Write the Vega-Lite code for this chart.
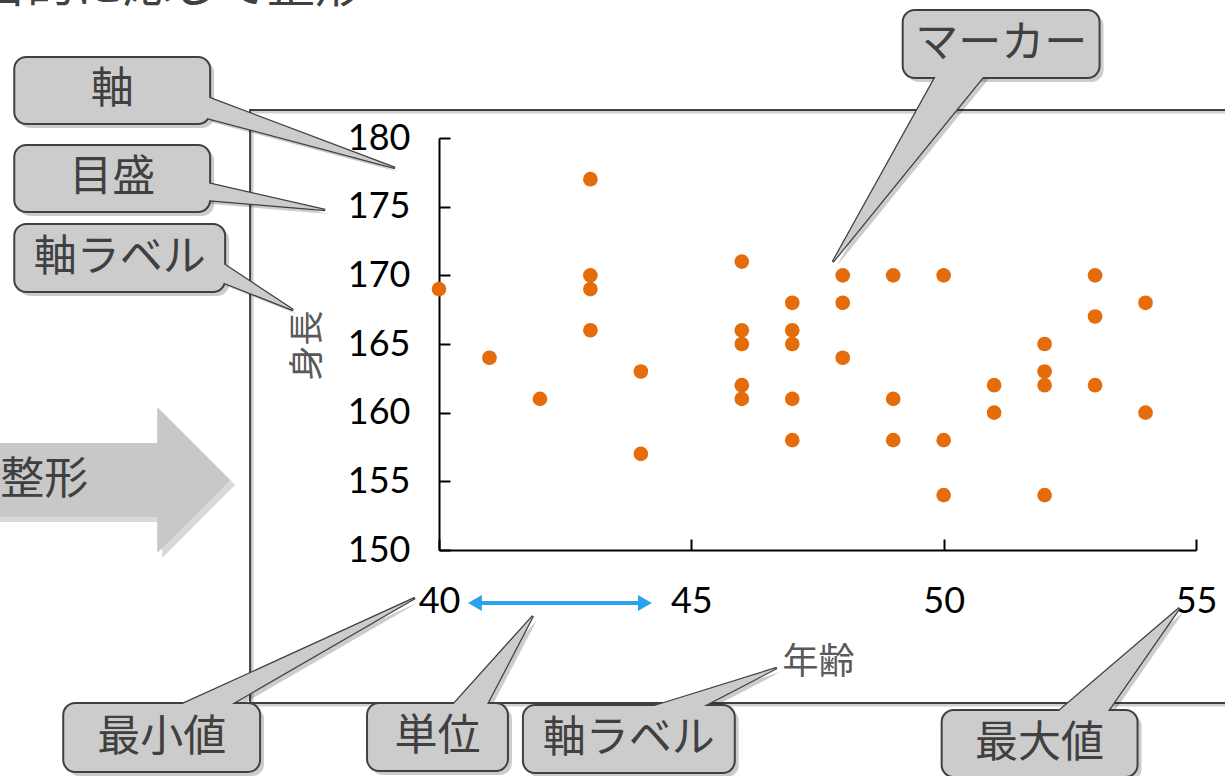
{
  "$schema": "https://vega.github.io/schema/vega-lite/v6.json",
  "width": 757,
  "height": 412,
  "autosize": "none",
  "padding": {"left": 439, "top": 138, "right": 29, "bottom": 226},
  "background": "white",
  "config": {"view": {"stroke": null}, "font": "Noto Sans CJK JP"},
  "datasets": {
    "pts": [
      {"age": 40, "height": 169},
      {"age": 41, "height": 164},
      {"age": 42, "height": 161},
      {"age": 43, "height": 177}, {"age": 43, "height": 170}, {"age": 43, "height": 169}, {"age": 43, "height": 166},
      {"age": 44, "height": 163}, {"age": 44, "height": 157},
      {"age": 46, "height": 171}, {"age": 46, "height": 166}, {"age": 46, "height": 165}, {"age": 46, "height": 162}, {"age": 46, "height": 161},
      {"age": 47, "height": 168}, {"age": 47, "height": 166}, {"age": 47, "height": 165}, {"age": 47, "height": 161}, {"age": 47, "height": 158},
      {"age": 48, "height": 170}, {"age": 48, "height": 168}, {"age": 48, "height": 164},
      {"age": 49, "height": 170}, {"age": 49, "height": 161}, {"age": 49, "height": 158},
      {"age": 50, "height": 170}, {"age": 50, "height": 158}, {"age": 50, "height": 154},
      {"age": 51, "height": 162}, {"age": 51, "height": 160},
      {"age": 52, "height": 165}, {"age": 52, "height": 163}, {"age": 52, "height": 162}, {"age": 52, "height": 154},
      {"age": 53, "height": 170}, {"age": 53, "height": 167}, {"age": 53, "height": 162},
      {"age": 54, "height": 168}, {"age": 54, "height": 160}
    ],
    "frame": [{"x1": 36.257, "x2": 55.861, "y1": 182.04, "y2": 138.859}],
    "title": [{"text": "目的に応じて整形", "x": 38.495, "y": 189.9}],
    "bigArrowBody": [{"x1": 31.2, "x2": 34.45, "y1": 157.791, "y2": 152.403, "text": "整形", "tx": 33.05, "ty": 155.0}],
    "bigArrowHead": [
      {"x": 34.416, "y": 160.413, "y2": 149.782},
      {"x": 35.861, "y": 155.097, "y2": 155.097}
    ],
    "unit": [{"x": 40.554, "x2": 44.238, "y": 146.141}],
    "boxes": [
      {"label": "軸", "x1": 31.584, "x2": 35.465, "y1": 185.899, "y2": 181.02, "tx": 33.525, "ty": 183.459},
      {"label": "目盛", "x1": 31.584, "x2": 35.465, "y1": 179.491, "y2": 174.612, "tx": 33.525, "ty": 177.052},
      {"label": "軸ラベル", "x1": 31.584, "x2": 35.762, "y1": 173.738, "y2": 168.787, "tx": 33.673, "ty": 171.263},
      {"label": "マーカー", "x1": 49.188, "x2": 53.089, "y1": 189.321, "y2": 184.37, "tx": 51.139, "ty": 186.845},
      {"label": "最小値", "x1": 32.554, "x2": 36.455, "y1": 138.859, "y2": 133.834, "tx": 34.505, "ty": 136.347},
      {"label": "単位", "x1": 38.574, "x2": 41.366, "y1": 138.859, "y2": 133.907, "tx": 39.97, "ty": 136.383},
      {"label": "軸ラベル", "x1": 41.663, "x2": 45.861, "y1": 138.713, "y2": 133.762, "tx": 43.762, "ty": 136.238},
      {"label": "最大値", "x1": 49.96, "x2": 53.842, "y1": 138.349, "y2": 133.471, "tx": 51.901, "ty": 135.91}
    ],
    "lptr": [
      {"id": "軸", "x": 35.4, "y": 182.986, "y2": 181.457},
      {"id": "軸", "x": 39.129, "y": 177.816, "y2": 177.816},
      {"id": "目盛", "x": 35.4, "y": 176.724, "y2": 175.486},
      {"id": "目盛", "x": 37.743, "y": 174.758, "y2": 174.758},
      {"id": "軸ラベル", "x": 35.7, "y": 170.898, "y2": 169.515},
      {"id": "軸ラベル", "x": 37.109, "y": 167.476, "y2": 167.476}
    ],
    "vptr": [
      {"id": "最小値", "y": 138.64, "x": 34.832, "x2": 35.822},
      {"id": "最小値", "y": 146.505, "x": 39.525, "x2": 39.525},
      {"id": "単位", "y": 138.64, "x": 40.257, "x2": 40.931},
      {"id": "単位", "y": 145.194, "x": 41.861, "x2": 41.861},
      {"id": "軸ラベル2", "y": 138.49, "x": 44.139, "x2": 45.168},
      {"id": "軸ラベル2", "y": 141.408, "x": 46.693, "x2": 46.693},
      {"id": "最大値", "y": 138.13, "x": 52.238, "x2": 53.228},
      {"id": "最大値", "y": 145.777, "x": 54.673, "x2": 54.673},
      {"id": "マーカー", "y": 184.59, "x": 49.861, "x2": 50.812},
      {"id": "マーカー", "y": 170.971, "x": 47.802, "x2": 47.802}
    ]
  },
  "layer": [
    {
      "data": {"name": "frame"},
      "mark": {"type": "rect", "fill": null, "stroke": "#d0d0d0", "strokeWidth": 3, "xOffset": 2, "x2Offset": 2, "yOffset": 2, "y2Offset": 2},
      "encoding": {
        "x": {"field": "x1", "type": "quantitative"}, "x2": {"field": "x2"},
        "y": {"field": "y1", "type": "quantitative"}, "y2": {"field": "y2"}
      }
    },
    {
      "data": {"name": "frame"},
      "mark": {"type": "rect", "fill": null, "stroke": "#404040", "strokeWidth": 2},
      "encoding": {
        "x": {"field": "x1", "type": "quantitative"}, "x2": {"field": "x2"},
        "y": {"field": "y1", "type": "quantitative"}, "y2": {"field": "y2"}
      }
    },
    {
      "data": {"name": "title"},
      "mark": {"type": "text", "align": "right", "baseline": "alphabetic", "fontSize": 48, "color": "#404040", "font": "Noto Sans CJK JP"},
      "encoding": {
        "x": {"field": "x", "type": "quantitative"},
        "y": {"field": "y", "type": "quantitative"},
        "text": {"field": "text"}
      }
    },
    {
      "data": {"name": "bigArrowBody"},
      "mark": {"type": "rect", "fill": "#000000", "opacity": 0.15, "xOffset": 5, "x2Offset": 5, "yOffset": 5, "y2Offset": 5},
      "encoding": {
        "x": {"field": "x1", "type": "quantitative"}, "x2": {"field": "x2"},
        "y": {"field": "y1", "type": "quantitative"}, "y2": {"field": "y2"}
      }
    },
    {
      "data": {"name": "bigArrowHead"},
      "mark": {"type": "area", "fill": "#000000", "opacity": 0.15, "xOffset": 5, "yOffset": 5, "y2Offset": 5},
      "encoding": {
        "x": {"field": "x", "type": "quantitative"},
        "y": {"field": "y", "type": "quantitative", "stack": null}, "y2": {"field": "y2"}
      }
    },
    {
      "data": {"name": "bigArrowBody"},
      "mark": {"type": "rect", "fill": "#c8c8c8"},
      "encoding": {
        "x": {"field": "x1", "type": "quantitative"}, "x2": {"field": "x2"},
        "y": {"field": "y1", "type": "quantitative"}, "y2": {"field": "y2"}
      }
    },
    {
      "data": {"name": "bigArrowHead"},
      "mark": {"type": "area", "fill": "#c8c8c8"},
      "encoding": {
        "x": {"field": "x", "type": "quantitative"},
        "y": {"field": "y", "type": "quantitative", "stack": null}, "y2": {"field": "y2"}
      }
    },
    {
      "data": {"name": "bigArrowBody"},
      "mark": {"type": "text", "align": "right", "baseline": "middle", "fontSize": 44, "color": "#404040", "font": "Noto Sans CJK JP"},
      "encoding": {
        "x": {"field": "tx", "type": "quantitative"},
        "y": {"field": "ty", "type": "quantitative"},
        "text": {"field": "text"}
      }
    },
    {
      "data": {"name": "pts"},
      "mark": {"type": "point", "filled": true, "shape": "circle", "size": 215, "color": "#e46c0a", "opacity": 1},
      "encoding": {
        "x": {
          "field": "age", "type": "quantitative",
          "scale": {"domain": [40, 55], "nice": false, "zero": false},
          "axis": {
            "values": [40, 45, 50, 55], "grid": false,
            "domainColor": "#000000", "domainWidth": 2,
            "tickColor": "#000000", "tickWidth": 2, "tickSize": -11,
            "labelFont": "Lato", "labelFontSize": 36, "labelColor": "#000000",
            "labelBaseline": "middle", "labelPadding": 62,
            "labelFlush": false, "labelOverlap": false, "labelBound": false,
            "title": "年齢", "titleFont": "Noto Sans CJK JP", "titleFontSize": 36,
            "titleFontWeight": "normal", "titleColor": "#595959",
            "titleX": 379, "titleY": 112, "titleAlign": "center", "titleBaseline": "middle"
          }
        },
        "y": {
          "field": "height", "type": "quantitative",
          "scale": {"domain": [150, 180], "nice": false, "zero": false},
          "axis": {
            "values": [150, 155, 160, 165, 170, 175, 180], "grid": false,
            "domainColor": "#000000", "domainWidth": 2,
            "tickColor": "#000000", "tickWidth": 2, "tickSize": -11,
            "labelFont": "Lato", "labelFontSize": 36, "labelColor": "#000000",
            "labelPadding": 40,
            "labelFlush": false, "labelOverlap": false, "labelBound": false,
            "title": "身長", "titleFont": "Noto Sans CJK JP", "titleFontSize": 35,
            "titleFontWeight": "normal", "titleColor": "#595959",
            "titleAngle": -90, "titleX": -132, "titleY": 207, "titleAlign": "center", "titleBaseline": "middle"
          }
        }
      }
    },
    {
      "data": {"name": "unit"},
      "mark": {"type": "rule", "color": "#29a3ef", "strokeWidth": 4, "xOffset": 8, "x2Offset": -8},
      "encoding": {
        "x": {"field": "x", "type": "quantitative"}, "x2": {"field": "x2"},
        "y": {"field": "y", "type": "quantitative"}
      }
    },
    {
      "data": {"name": "unit"},
      "mark": {"type": "point", "shape": "triangle-left", "filled": true, "size": 256, "color": "#29a3ef", "opacity": 1, "xOffset": 8},
      "encoding": {
        "x": {"field": "x", "type": "quantitative"},
        "y": {"field": "y", "type": "quantitative"}
      }
    },
    {
      "data": {"name": "unit"},
      "mark": {"type": "point", "shape": "triangle-right", "filled": true, "size": 256, "color": "#29a3ef", "opacity": 1, "xOffset": -8},
      "encoding": {
        "x": {"field": "x2", "type": "quantitative"},
        "y": {"field": "y", "type": "quantitative"}
      }
    },
    {
      "data": {"name": "lptr"},
      "mark": {"type": "area", "fill": "#000000", "opacity": 0.2, "xOffset": 4, "yOffset": 4, "y2Offset": 4},
      "encoding": {
        "x": {"field": "x", "type": "quantitative"},
        "y": {"field": "y", "type": "quantitative", "stack": null}, "y2": {"field": "y2"},
        "detail": {"field": "id"}
      }
    },
    {
      "data": {"name": "vptr"},
      "mark": {"type": "area", "orient": "horizontal", "fill": "#000000", "opacity": 0.2, "xOffset": 4, "x2Offset": 4, "yOffset": 4},
      "encoding": {
        "y": {"field": "y", "type": "quantitative"},
        "x": {"field": "x", "type": "quantitative", "stack": null}, "x2": {"field": "x2"},
        "detail": {"field": "id"}
      }
    },
    {
      "data": {"name": "boxes"},
      "mark": {"type": "rect", "fill": "#000000", "opacity": 0.2, "cornerRadius": 12, "xOffset": 4, "x2Offset": 4, "yOffset": 4, "y2Offset": 4},
      "encoding": {
        "x": {"field": "x1", "type": "quantitative"}, "x2": {"field": "x2"},
        "y": {"field": "y1", "type": "quantitative"}, "y2": {"field": "y2"}
      }
    },
    {
      "data": {"name": "lptr"},
      "mark": {"type": "area", "fill": "#cccccc", "stroke": "#404040", "strokeWidth": 2.5, "strokeJoin": "miter"},
      "encoding": {
        "x": {"field": "x", "type": "quantitative"},
        "y": {"field": "y", "type": "quantitative", "stack": null}, "y2": {"field": "y2"},
        "detail": {"field": "id"}
      }
    },
    {
      "data": {"name": "vptr"},
      "mark": {"type": "area", "orient": "horizontal", "fill": "#cccccc", "stroke": "#404040", "strokeWidth": 2.5, "strokeJoin": "miter"},
      "encoding": {
        "y": {"field": "y", "type": "quantitative"},
        "x": {"field": "x", "type": "quantitative", "stack": null}, "x2": {"field": "x2"},
        "detail": {"field": "id"}
      }
    },
    {
      "data": {"name": "boxes"},
      "mark": {"type": "rect", "fill": "#cccccc", "stroke": "#404040", "strokeWidth": 2, "cornerRadius": 12},
      "encoding": {
        "x": {"field": "x1", "type": "quantitative"}, "x2": {"field": "x2"},
        "y": {"field": "y1", "type": "quantitative"}, "y2": {"field": "y2"}
      }
    },
    {
      "data": {"name": "lptr"},
      "mark": {"type": "area", "fill": "#cccccc"},
      "encoding": {
        "x": {"field": "x", "type": "quantitative"},
        "y": {"field": "y", "type": "quantitative", "stack": null}, "y2": {"field": "y2"},
        "detail": {"field": "id"}
      }
    },
    {
      "data": {"name": "vptr"},
      "mark": {"type": "area", "orient": "horizontal", "fill": "#cccccc"},
      "encoding": {
        "y": {"field": "y", "type": "quantitative"},
        "x": {"field": "x", "type": "quantitative", "stack": null}, "x2": {"field": "x2"},
        "detail": {"field": "id"}
      }
    },
    {
      "data": {"name": "boxes"},
      "mark": {"type": "text", "align": "center", "baseline": "middle", "fontSize": 43, "color": "#404040", "font": "Noto Sans CJK JP"},
      "encoding": {
        "x": {"field": "tx", "type": "quantitative"},
        "y": {"field": "ty", "type": "quantitative"},
        "text": {"field": "label"}
      }
    }
  ]
}
